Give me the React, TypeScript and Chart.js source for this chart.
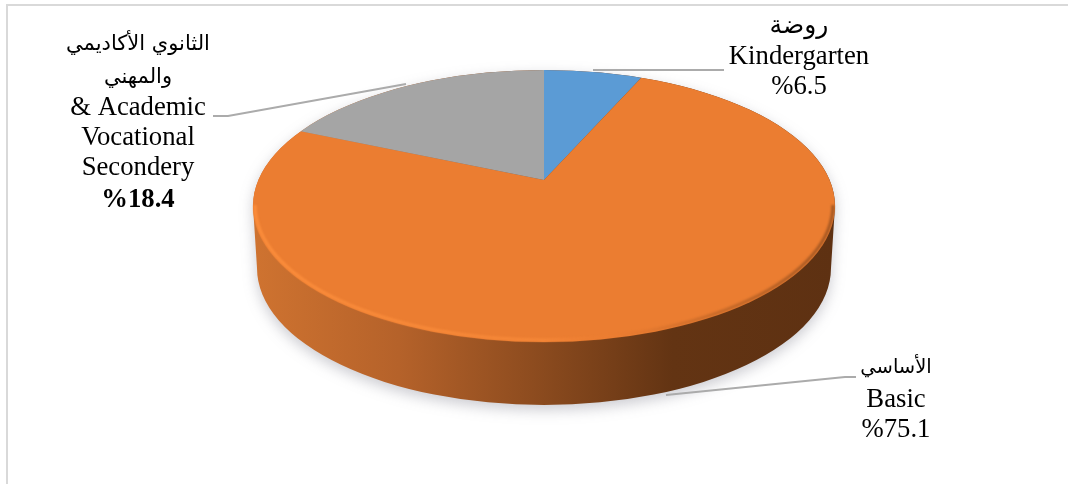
import React, { useEffect, useRef } from "react";
import { Chart, registerables } from "chart.js";

Chart.register(...registerables);

const categories = ["Kindergarten", "Basic", "Academic & Vocational Secondery"];
const shares = [6.5, 75.1, 18.4];
const sliceColors = ["#5b9bd5", "#eb7d31", "#a5a5a5"];
const kindergartenLines = ["روضة", "Kindergarten", "%6.5"];
const secondaryLines = ["الثانوي الأكاديمي", "والمهني", "& Academic", "Vocational", "Secondery", "%18.4"];
const basicLines = ["الأساسي", "Basic", "%75.1"];

const serif = '"Liberation Serif", serif';
const arabicFont = '"DejaVu Sans", sans-serif';

// geometry of the tilted disc
const APEX = { x: 544, y: 180 };
const TILT = 0.455;
const TOP = { cx: 544, cy: 206, rx: 291, ry: 136 };
const BOTTOM = { cx: 544, cy: 268, rx: 287, ry: 137 };

const isArabic = (s: string) => /[\u0600-\u06FF]/.test(s);

const discPlugin = {
  id: "disc",
  beforeDatasetsDraw(chart: any) {
    const { ctx } = chart;
    const meta = chart.getDatasetMeta(0);
    const arc = meta.data[0];
    const k = 380 / arc.outerRadius;
    ctx.save();
    // frame
    ctx.strokeStyle = "#d9d9d9";
    ctx.lineWidth = 2;
    ctx.beginPath();
    ctx.moveTo(7, 484);
    ctx.lineTo(7, 5);
    ctx.lineTo(1068, 5);
    ctx.stroke();

    // side wall with shadow
    const wall = ctx.createLinearGradient(TOP.cx - TOP.rx, 0, TOP.cx + TOP.rx, 0);
    wall.addColorStop(0, "#cf7330");
    wall.addColorStop(0.25, "#b5622a");
    wall.addColorStop(0.5, "#8a4a1e");
    wall.addColorStop(0.72, "#633413");
    wall.addColorStop(1, "#5e3112");
    ctx.save();
    ctx.shadowColor = "rgba(70,70,90,0.28)";
    ctx.shadowBlur = 14;
    ctx.shadowOffsetY = 5;
    ctx.fillStyle = wall;
    ctx.beginPath();
    ctx.ellipse(TOP.cx, TOP.cy, TOP.rx, TOP.ry, 0, Math.PI, 0, false);
    ctx.ellipse(BOTTOM.cx, BOTTOM.cy, BOTTOM.rx, BOTTOM.ry, 0, 0, Math.PI, false);
    ctx.closePath();
    ctx.fill();
    ctx.restore();

    // top face: the pie, centred on its apex and clipped to the disc outline
    ctx.save();
    ctx.beginPath();
    ctx.ellipse(TOP.cx, TOP.cy, TOP.rx, TOP.ry, 0, 0, Math.PI * 2);
    ctx.clip();
    ctx.translate(APEX.x, APEX.y);
    ctx.scale(k, k * TILT);
    ctx.translate(-arc.x, -arc.y);
  },
  afterDatasetsDraw(chart: any) {
    const { ctx } = chart;
    ctx.restore();

    // bevelled rim along the front of the top face
    const rim = ctx.createLinearGradient(TOP.cx - TOP.rx, 0, TOP.cx + TOP.rx, 0);
    rim.addColorStop(0, "rgba(252,142,60,1)");
    rim.addColorStop(0.5, "rgba(246,136,56,0.9)");
    rim.addColorStop(0.62, "rgba(237,125,49,0.3)");
    rim.addColorStop(0.8, "rgba(150,80,30,0.45)");
    rim.addColorStop(1, "rgba(110,58,22,0.6)");
    ctx.save();
    ctx.beginPath();
    ctx.ellipse(TOP.cx, TOP.cy, TOP.rx + 1, TOP.ry + 1, 0, 0, Math.PI * 2);
    ctx.clip();
    ctx.strokeStyle = rim;
    ctx.lineWidth = 3;
    ctx.filter = "blur(1px)";
    ctx.beginPath();
    ctx.ellipse(TOP.cx, TOP.cy - 1, TOP.rx - 2, TOP.ry - 1, 0, 0, Math.PI, false);
    ctx.stroke();
    ctx.restore();

    // leader lines
    ctx.save();
    ctx.strokeStyle = "#ababab";
    ctx.lineWidth = 2;
    const leaders = [
      [[593, 70], [724, 70]],
      [[406, 84], [228, 116], [213, 116]],
      [[666, 395], [845, 377], [856, 377]],
    ];
    for (const pts of leaders) {
      ctx.beginPath();
      pts.forEach(([x, y], i) => (i ? ctx.lineTo(x, y) : ctx.moveTo(x, y)));
      ctx.stroke();
    }
    ctx.restore();

    // labels
    const blocks = [
      { lines: kindergartenLines, x: 799, ys: [26, 57, 87], boldLast: false, arabicSize: 25 },
      { lines: secondaryLines, x: 138, ys: [45, 78, 108, 138, 168, 200], boldLast: true, arabicSize: 21 },
      { lines: basicLines, x: 896, ys: [368, 400, 430], boldLast: false, arabicSize: 19.5 },
    ];
    ctx.save();
    ctx.fillStyle = "#000";
    ctx.textAlign = "center";
    ctx.textBaseline = "middle";
    for (const b of blocks) {
      b.lines.forEach((line, i) => {
        const bold = b.boldLast && i === b.lines.length - 1;
        ctx.font = isArabic(line) ? `${b.arabicSize}px ${arabicFont}` : `${bold ? "bold " : ""}26.7px ${serif}`;
        ctx.fillText(line, b.x, b.ys[i]);
      });
    }
    ctx.restore();
  },
};

export default function App() {
  const ref = useRef<HTMLCanvasElement>(null);
  useEffect(() => {
    if (!ref.current) return;
    const chart = new Chart(ref.current, {
      type: "pie",
      data: {
        labels: categories,
        datasets: [{ data: shares, backgroundColor: sliceColors, borderWidth: 0 }],
      },
      options: {
        animation: false,
        responsive: false,
        plugins: { legend: { display: false }, tooltip: { enabled: false } },
      },
      plugins: [discPlugin],
    });
    return () => chart.destroy();
  }, []);
  return (
    <div style={{ position: "absolute", left: 0, top: 0, width: 1068, height: 484, background: "#fff" }}>
      <canvas ref={ref} width={1068} height={484} style={{ display: "block" }} />
    </div>
  );
}
